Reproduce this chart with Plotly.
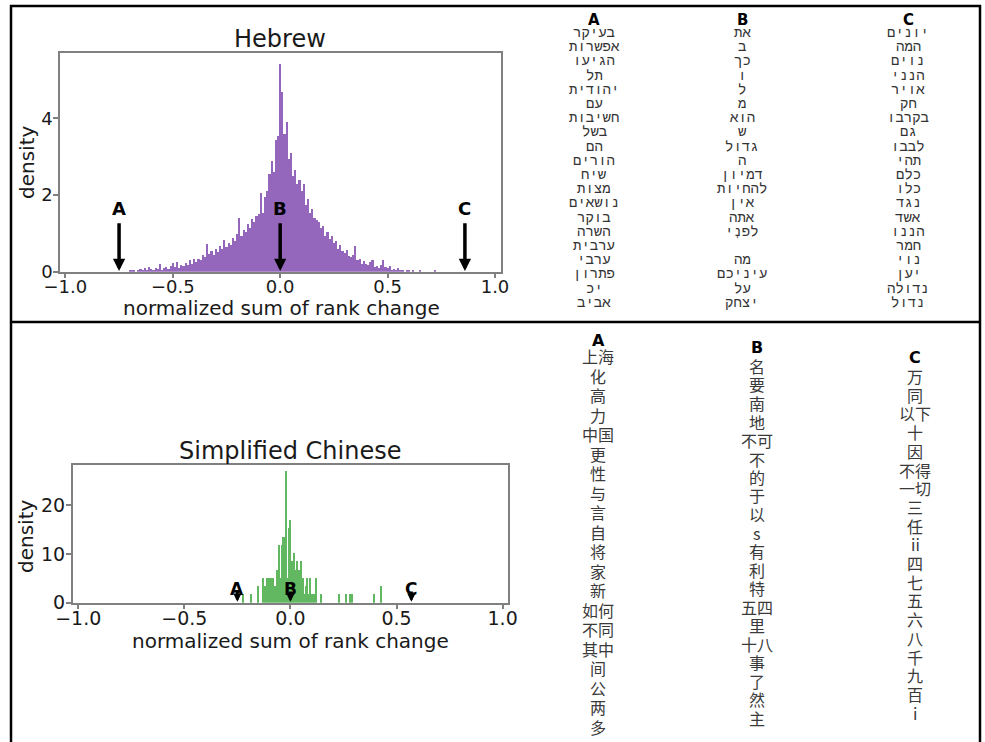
import plotly.graph_objects as go

W, H = 985, 742

# ---- Hebrew histogram: density per 0.01 wide bin, first bin centred at -0.70
heb_bin_start = -0.70
heb_bin_width = 0.01
heb_density = [
    0.03, 0.05, 0.03, 0.00, 0.05, 0.08, 0.03, 0.10, 0.05, 0.13,
    0.08, 0.05, 0.10, 0.08, 0.20, 0.05, 0.10, 0.13, 0.08, 0.15,
    0.23, 0.13, 0.26, 0.10, 0.18, 0.15, 0.23, 0.18, 0.30, 0.20,
    0.33, 0.25, 0.35, 0.30, 0.45, 0.38, 0.74, 0.48, 0.55, 0.45,
    0.60, 0.52, 0.68, 0.60, 0.83, 0.65, 0.75, 0.70, 0.88, 0.80,
    1.00, 1.40, 0.95, 1.10, 1.05, 1.25, 1.15, 1.38, 1.30, 1.45,
    1.50, 2.05, 1.55, 1.95, 2.10, 2.55, 2.90, 2.60, 3.45, 3.55,
    5.43,
    4.69, 3.60, 3.90, 2.95, 3.10, 2.50, 2.65, 2.30, 2.40, 2.10,
    2.30, 1.75, 1.90, 1.55, 1.65, 1.40, 1.35, 1.30, 1.15, 1.20,
    0.95, 1.05, 0.85, 0.95, 0.75, 0.80, 0.60, 0.70, 0.55, 0.50,
    0.58, 0.42, 0.38, 0.45, 0.67, 0.30, 0.35, 0.22, 0.28, 0.20,
    0.17, 0.25, 0.30, 0.12, 0.15, 0.10, 0.18, 0.32, 0.13, 0.10,
    0.15, 0.05, 0.08, 0.05, 0.10, 0.03, 0.05, 0.00, 0.05, 0.03,
    0.00, 0.03, 0.00, 0.00, 0.03, 0.00, 0.00, 0.00, 0.00, 0.00,
    0.00, 0.04,
]

# ---- Simplified Chinese histogram: sparse narrow bins
zh_x = [
    -0.225, -0.186, -0.152, -0.131, -0.120, -0.112, -0.104, -0.097, -0.089, -0.081,
    -0.073, -0.065, -0.057, -0.049, -0.042, -0.036, -0.026, -0.021, -0.015, -0.010,
    -0.002, 0.006, 0.010, 0.017, 0.022, 0.026, 0.031, 0.036, 0.040, 0.045,
    0.050, 0.056, 0.062, 0.070, 0.078, 0.083, 0.089, 0.100, 0.108, 0.119,
    0.144, 0.226, 0.262, 0.281, 0.289, 0.391, 0.426,
]
zh_density = [
    1.69, 1.69, 3.38, 5.07, 3.38, 5.07, 5.07, 5.07, 5.07, 5.07,
    3.38, 6.76, 11.83, 5.07, 11.83, 13.52, 13.52, 27.04, 5.07, 15.21,
    16.90, 8.45, 5.07, 10.14, 3.38, 6.76, 8.45, 5.07, 6.76, 3.38,
    8.45, 5.07, 1.69, 3.38, 5.07, 1.69, 5.07, 1.69, 1.69, 5.07,
    1.69, 1.69, 1.69, 1.69, 1.69, 1.69, 3.38,
]

marker_labels = ["A", "B", "C"]
heb_marker_x = [-0.75, 0.0, 0.86]
zh_marker_x = [-0.25, 0.0, 0.57]

# ---- word lists
heb_A = ["בעיקר", "אפשרות", "הגיעו", "תל", "יהודית", "עם", "חשיבות", "בשל", "הם", "הורים",
         "שיח", "מצות", "נושאים", "בוקר", "השרה", "ערבית", "ערבי", "פתרון", "יכ", "אביב"]
heb_B = ["את", "ב", "כך", "ו", "ל", "מ", "הוא", "ש", "גדול", "ה",
         "דמיון", "להחיות", "אין", "אתה", "לפנְי", "", "מה", "עיניכם", "על", "יצחק"]
heb_C = ["יונים", "המה", "נוים", "הנני", "אויר", "חק", "בקרבו", "גם", "לבבו", "תהי",
         "כלם", "כלו", "נגד", "אשד", "הננו", "חמר", "נוי", "יען", "נדולה", "נדול"]

zh_A = ["上海", "化", "高", "力", "中国", "更", "性", "与", "言", "自",
        "将", "家", "新", "如何", "不同", "其中", "间", "公", "两", "多"]
zh_B = ["名", "要", "南", "地", "不可", "不", "的", "于", "以", "s",
        "有", "利", "特", "五四", "里", "十八", "事", "了", "然", "主"]
zh_C = ["万", "同", "以下", "十", "因", "不得", "一切", "三", "任", "ii",
        "四", "七", "五", "六", "八", "千", "九", "百", "i"]


def px(x):
    return x / W


def py(y):
    return 1 - y / H


BASE = "DejaVu Sans"
fig = go.Figure()

fig.add_trace(go.Bar(x0=heb_bin_start, dx=heb_bin_width, y=heb_density, width=heb_bin_width,
                     marker=dict(color="#9467bd", line=dict(width=0)),
                     xaxis="x", yaxis="y", showlegend=False))
fig.add_trace(go.Bar(x=zh_x, y=zh_density, width=0.005,
                     marker=dict(color="#2ca02c", line=dict(width=0)), opacity=0.75,
                     xaxis="x2", yaxis="y2", showlegend=False))

axis_style = dict(showline=True, mirror=True, linecolor="#808080", linewidth=1.5,
                  ticks="outside", ticklen=5, tickwidth=1.5, tickcolor="#808080",
                  showgrid=False, zeroline=False, fixedrange=True, automargin=False)
x_ticks = dict(tickvals=[-1, -0.5, 0, 0.5, 1], ticktext=["−1.0", "−0.5", "0.0", "0.5", "1.0"],
               ticklabelstandoff=-7)

fig.update_layout(
    width=W, height=H, autosize=False,
    margin=dict(l=0, r=0, t=0, b=0, pad=0),
    paper_bgcolor="white", plot_bgcolor="white",
    bargap=0, barmode="overlay",
    font=dict(family=BASE, color="#1a1a1a"),
    xaxis=dict(domain=[px(60), px(501)], range=[-1.025, 1.028], anchor="y",
               tickfont=dict(size=18), **x_ticks, **axis_style),
    yaxis=dict(domain=[py(271.7), py(52.7)], range=[0, 5.71], anchor="x",
               tickvals=[0, 2, 4], ticklabelstandoff=-3, tickfont=dict(size=18), **axis_style),
    xaxis2=dict(domain=[px(72.7), px(507.7)], range=[-1.026, 1.024], anchor="y2",
                tickfont=dict(size=19), **x_ticks, **axis_style),
    yaxis2=dict(domain=[py(602.7), py(465)], range=[0, 28.2], anchor="x2",
                tickvals=[0, 10, 20], ticklabelstandoff=-3, tickfont=dict(size=19), **axis_style),
)

ann = []


def label(x, y, text, size, family=BASE, color="#1a1a1a", angle=0):
    ann.append(dict(xref="paper", yref="paper", x=px(x), y=py(y), text=text,
                    showarrow=False, xanchor="center", yanchor="middle", textangle=angle,
                    font=dict(family=family, size=size, color=color)))


# titles and axis labels
label(280, 39, "Hebrew", 24)
label(281, 308, "normalized sum of rank change", 20)
label(27, 163, "density", 20, angle=-90)
label(290, 451, "Simplified Chinese", 24)
label(290, 641, "normalized sum of rank change", 20)
label(26, 537, "density", 20, angle=-90)

# A/B/C arrows on the histograms
for name, xa in zip(marker_labels, heb_marker_x):
    ann.append(dict(xref="x", yref="y", axref="x", ayref="y", x=xa, y=0.02, ax=xa, ay=1.3,
                    text="", showarrow=True, arrowhead=2, arrowsize=0.7, arrowwidth=3.5,
                    arrowcolor="black"))
    ann.append(dict(xref="x", yref="y", x=xa, y=1.66, text="<b>%s</b>" % name, showarrow=False,
                    xanchor="center", yanchor="middle", font=dict(family=BASE, size=18, color="black")))
for name, xa in zip(marker_labels, zh_marker_x):
    ann.append(dict(xref="x2", yref="y2", axref="x2", ayref="y2", x=xa, y=0.2, ax=xa, ay=2.6,
                    text="", showarrow=True, arrowhead=2, arrowsize=0.55, arrowwidth=3,
                    arrowcolor="black"))
    ann.append(dict(xref="x2", yref="y2", x=xa, y=2.9, text="<b>%s</b>" % name, showarrow=False,
                    xanchor="center", yanchor="middle", font=dict(family=BASE, size=17, color="black")))

# Hebrew word columns
heb_cols = [(594, 20, 33, 14.2, heb_A), (742, 20, 33, 14.2, heb_B), (908, 20, 33, 14.2, heb_C)]
for (cx, hy, y0, step, words), name in zip(heb_cols, marker_labels):
    label(cx, hy, "<b>%s</b>" % name, 15, color="black")
    for i, w in enumerate(words):
        if w:
            label(cx, y0 + i * step, w, 14, family="Liberation Mono", color="#333333")

# Chinese word columns
zh_cols = [(598, 340, 356, 19.5, zh_A), (757, 347, 366, 18.5, zh_B), (915, 357, 376, 18.7, zh_C)]
for (cx, hy, y0, step, words), name in zip(zh_cols, marker_labels):
    label(cx, hy, "<b>%s</b>" % name, 16, color="black")
    for i, w in enumerate(words):
        label(cx, y0 + i * step, w, 16, family="Noto Sans CJK SC", color="#3a3a3a")

fig.update_layout(annotations=ann)

# panel frame
frame = [
    (10, 6, 981, 6), (11, 5, 11, 742), (980, 5, 980, 742), (10, 322, 981, 322),
]
fig.update_layout(shapes=[dict(type="line", xref="paper", yref="paper",
                               x0=px(a), y0=py(b), x1=px(c), y1=py(d),
                               line=dict(color="black", width=2.5)) for a, b, c, d in frame])

# drop the browser's default page margin so the figure sits at the window's corner
fig.write_html("out.html", config={"displayModeBar": False},
               post_script="document.body.style.margin='0';document.body.style.overflow='hidden';")
